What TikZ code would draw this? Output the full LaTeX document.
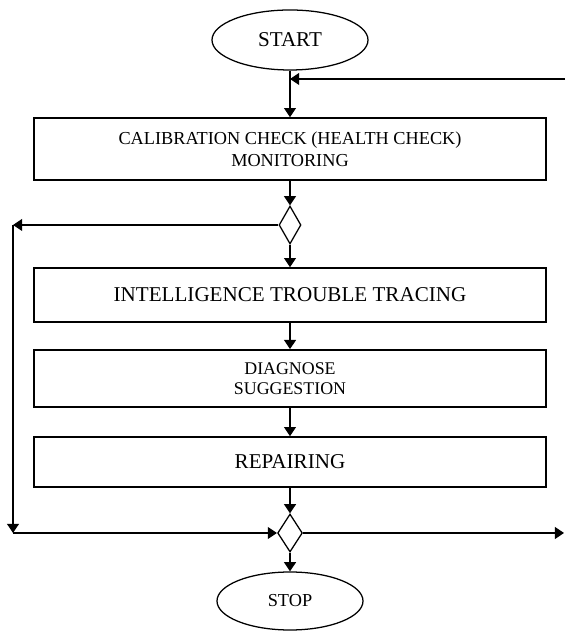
\documentclass[tikz,border=0pt]{standalone}
\usepackage{fontspec}
\setmainfont{Liberation Serif}
\usepackage{tikz}
\usetikzlibrary{arrows.meta,positioning,shapes.geometric,calc}

\begin{document}
\begin{tikzpicture}[
  every node/.style={font=\fontsize{13}{15.6}\selectfont},
  >={Triangle[length=2.3mm,width=3mm]},
  line/.style={->,line width=0.8pt},
  block/.style={draw,line width=1.1pt,minimum width=12.8cm,
                align=center,inner sep=1pt},
  term/.style={draw,ellipse,line width=0.9pt,inner sep=0pt},
  dec/.style={draw,diamond,line width=0.9pt,inner sep=0pt,
              minimum width=0.55cm,minimum height=0.95cm}
]
\useasboundingbox (0,0) rectangle (14.15,15.8);

\node[term,minimum width=3.9cm,minimum height=1.5cm,
      font=\fontsize{15}{17}\selectfont] (start) at (7.25,14.8) {START};
\node[block,minimum height=1.55cm] (calib) at (7.25,12.075)
      {CALIBRATION CHECK (HEALTH CHECK)\\MONITORING};
\node[dec] (dec1) at (7.25,10.175) {};
\node[block,minimum height=1.35cm,font=\fontsize{15}{17}\selectfont]
      (trace) at (7.25,8.425) {INTELLIGENCE TROUBLE TRACING};
\node[block,minimum height=1.425cm,font=\fontsize{12.7}{14.4}\selectfont]
      (diag) at (7.25,6.34) {DIAGNOSE\\SUGGESTION};
\node[block,minimum height=1.25cm,font=\fontsize{15}{17}\selectfont]
      (repair) at (7.25,4.25) {REPAIRING};
\node[dec,minimum width=0.62cm] (dec2) at (7.25,2.475) {};
\node[term,minimum width=3.65cm,minimum height=1.45cm] (stop) at (7.25,0.775) {STOP};

\coordinate (fbR)  at (14.125,13.825);
\coordinate (lpT)  at (0.325,10.175);
\coordinate (lpB)  at (0.325,2.475);
\coordinate (outR) at (14.1,2.475);

% main flow
\draw[line] (start) -- (calib);
\draw[line] (calib) -- (dec1);
\draw[line] (dec1) -- (trace);
\draw[line] (trace) -- (diag);
\draw[line] (diag) -- (repair);
\draw[line] (repair) -- (dec2);
\draw[line] (dec2) -- (stop);

% loops
\draw[line] (fbR) -- (fbR -| start);
\draw[line] (dec1.west) -- (lpT);
\draw[line] (lpT) -- (lpB);
\draw[line] (lpB) -- (dec2.west);
\draw[line] (dec2.east) -- (outR);
\end{tikzpicture}
\end{document}
